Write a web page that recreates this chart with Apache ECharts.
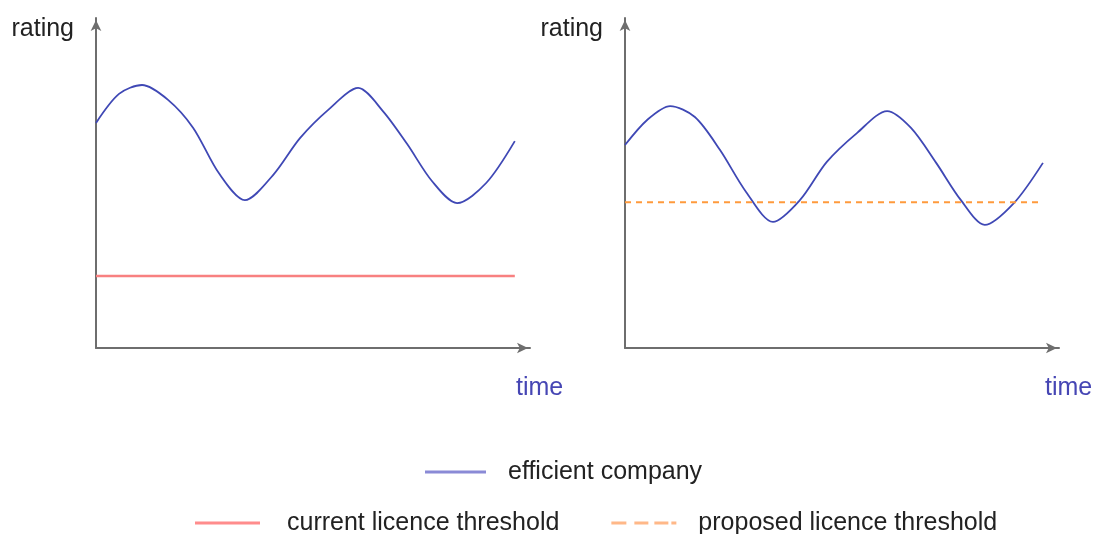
<!DOCTYPE html>
<html><head><meta charset="utf-8">
<script src="https://cdn.jsdelivr.net/npm/echarts@6/dist/echarts.min.js"></script>
<style>html,body{margin:0;padding:0;background:#fff}#c{width:1094px;height:534px}</style>
</head><body><div id="c"></div>
<script>
// Left panel: efficient company vs current threshold
const leftTime   = [0, 5.3, 10.6, 16.6, 22.4, 28.3, 34.3, 40.8, 47.0, 53.7, 60.4, 66.1, 71.7, 77.4, 83.2, 89.9, 96.5];
const leftRating = [68.2, 77.0, 79.7, 75.2, 66.7, 53.0, 44.8, 52.4, 63.6, 72.4, 78.8, 71.8, 61.8, 50.6, 43.9, 50.0, 62.7];
const currentThreshold = 21.8;
const currentThresholdSpan = [0, 96.5];
// Right panel: efficient company vs proposed threshold
const rightTime   = [0, 5.1, 10.4, 16.1, 21.9, 27.9, 34.1, 40.3, 46.5, 53.5, 60.4, 65.9, 71.7, 77.4, 82.9, 89.6, 96.3];
const rightRating = [61.5, 69.1, 73.3, 70.0, 60.0, 47.3, 38.2, 44.8, 56.4, 65.2, 71.8, 66.7, 56.1, 44.8, 37.3, 43.9, 56.1];
const proposedThreshold = 44.2;
const proposedThresholdSpan = [0, 96.3];

const legendNames = ['efficient company', 'current licence threshold', 'proposed licence threshold'];
const axisTitles = {y: 'rating', x: 'time'};

const FONT = 'Liberation Sans, Arial, sans-serif';
const zip = (a, b) => a.map((v, i) => [v, b[i]]);

const axisLine = {show: true, symbol: ['none', 'arrow'], symbolSize: [8, 11], symbolOffset: [0, -2],
  lineStyle: {color: '#6e6e6e', width: 2}};

function xAx(gi) {
  return {type: 'value', gridIndex: gi, min: 0, max: 100, axisLine: axisLine,
    axisTick: {show: false}, axisLabel: {show: false}, splitLine: {show: false}};
}
function yAx(gi) {
  return {type: 'value', gridIndex: gi, min: 0, max: 100, axisLine: axisLine,
    axisTick: {show: false}, axisLabel: {show: false}, splitLine: {show: false},
    name: axisTitles.y, nameLocation: 'end', nameGap: -11,
    nameTextStyle: {color: '#222', fontSize: 25, fontFamily: FONT, align: 'right', verticalAlign: 'middle', padding: [0, 22, 0, 0]}};
}
function timeTitle(left) {
  return {text: axisTitles.x, left: left, top: 373, padding: 0,
    textStyle: {color: '#4646b4', fontSize: 25, fontWeight: 'normal', fontFamily: FONT, lineHeight: 30}};
}

const option = {
  animation: false,
  backgroundColor: '#fff',
  title: [timeTitle(516), timeTitle(1045)],
  grid: [
    {left: 96, top: 18, width: 434, height: 330},
    {left: 625, top: 18, width: 434, height: 330}
  ],
  xAxis: [xAx(0), xAx(1)],
  yAxis: [yAx(0), yAx(1)],
  legend: [
    {left: 420, top: 453, itemWidth: 61, itemHeight: 14, itemGap: 52,
      textStyle: {fontSize: 25, fontFamily: FONT, color: '#222', padding: [0, 0, 0, 17], lineHeight: 28},
      data: [{name: legendNames[0], icon: 'path://M0,0H61V3H0Z', itemStyle: {color: '#8a8ad6'}}]},
    {left: 190, top: 504, itemWidth: 65, itemHeight: 14, itemGap: 52,
      textStyle: {fontSize: 25, fontFamily: FONT, color: '#222', padding: [0, 0, 0, 17], lineHeight: 28},
      data: [
        {name: legendNames[1], icon: 'path://M0,0H63V3H0Z', itemStyle: {color: '#ff8c8c'},
          textStyle: {padding: [0, 0, 0, 22]}},
        {name: legendNames[2], icon: 'path://M0,0H15V3H0ZM23,0H37V3H23ZM43,0H57V3H43ZM60,0H65V3H60Z', itemStyle: {color: '#ffb888'}}
      ]}
  ],
  series: [
    {name: legendNames[0], type: 'line', xAxisIndex: 0, yAxisIndex: 0, data: zip(leftTime, leftRating),
      smooth: 0.3, symbol: 'none', lineStyle: {color: '#3f48b5', width: 1.8}, itemStyle: {color: '#3f48b5'}},
    {name: legendNames[1], type: 'line', xAxisIndex: 0, yAxisIndex: 0,
      data: currentThresholdSpan.map(t => [t, currentThreshold]),
      symbol: 'none', lineStyle: {color: '#f88080', width: 2.5}, itemStyle: {color: '#f88080'}},
    {name: legendNames[0], type: 'line', xAxisIndex: 1, yAxisIndex: 1, data: zip(rightTime, rightRating),
      smooth: 0.3, symbol: 'none', lineStyle: {color: '#3f48b5', width: 1.8}, itemStyle: {color: '#3f48b5'}},
    {name: legendNames[2], type: 'line', xAxisIndex: 1, yAxisIndex: 1,
      data: proposedThresholdSpan.map(t => [t, proposedThreshold]),
      symbol: 'none', lineStyle: {color: '#ff9a3c', width: 2, type: [6, 5]}, itemStyle: {color: '#ff9a3c'}}
  ]
};
const chart = echarts.init(document.getElementById('c'), null, {renderer: 'canvas'});
chart.setOption(option);
</script></body></html>
